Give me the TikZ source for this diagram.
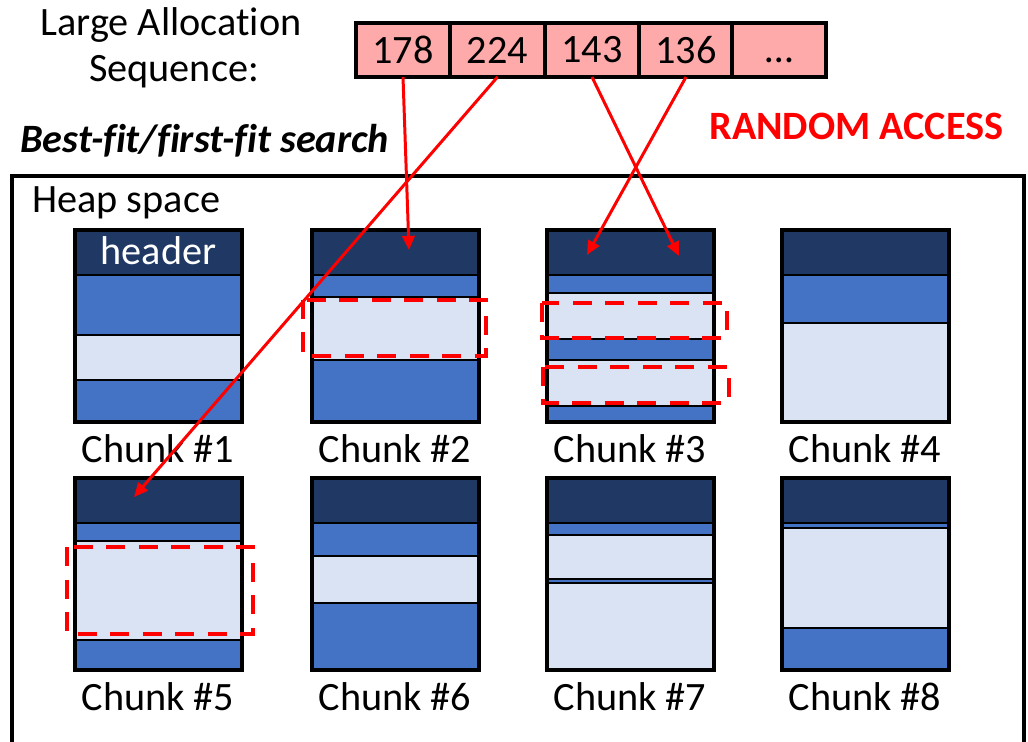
\documentclass[tikz,border=0pt]{standalone}
\usepackage{fontspec}
\setmainfont{Carlito}[Ligatures={NoCommon,NoContextual,NoRare}]
\usetikzlibrary{arrows.meta}

\definecolor{hdrblue}{HTML}{203864}
\definecolor{usedblue}{HTML}{4472C4}
\definecolor{freeblue}{HTML}{DAE3F3}
\definecolor{seqpink}{HTML}{FFAAAA}

\tikzset{
  hdr/.style={fill=hdrblue, draw=black, line width=1.6pt},
  used/.style={fill=usedblue, draw=black, line width=1.6pt},
  free/.style={fill=freeblue, draw=black, line width=1.6pt},
  chunkframe/.style={draw=black, line width=2.2pt},
  pick/.style={draw=red, line width=2.6pt, dash pattern=on 11pt off 7.5pt},
  seqbox/.style={draw=black, fill=seqpink, line width=2pt, minimum width=1.88cm,
    minimum height=1.08cm, inner sep=0pt, outer sep=0pt},
  hop/.style={red, line width=1.7pt, -{Triangle[length=8pt,width=7pt]}},
  txt/.style={inner sep=0pt}
}

\begin{document}
\begin{tikzpicture}[x=0.02cm, y=-0.02cm, font=\fontsize{22.9}{27}\selectfont]
    \useasboundingbox (0,0) rectangle (1028,742);
    \clip (0,0) rectangle (1028,742);

    % allocation requests
    \node[txt, anchor=base] (lbla) at (171,36) {Large Allocation};
    \node[txt, anchor=base] (lblb) at (174,82) {Sequence:};
    \node[seqbox] (s178) at (403,50) {178};
    \node[seqbox] (s224) at (497.5,50) {224};
    \node[seqbox] (s143) at (592,50) {143};
    \node[seqbox] (s136) at (686,50) {136};
    \node[seqbox] (sdots) at (779,50) {\vphantom{1}…};

    \node[txt, anchor=base west, font=\fontsize{22.9}{27}\selectfont\bfseries\itshape] (search) at (20,153) {Best-fit/first-fit search};
    \node[txt, anchor=base west, text=red, font=\fontsize{22.9}{27}\selectfont\bfseries] (random) at (709,140) {RANDOM ACCESS};

    % heap
    \draw[line width=2pt] (12,176) rectangle (1024,800);
    \node[txt, anchor=base west] (heap) at (32,213) {Heap space};

    % chunk bodies
    \foreach \n/\x/\y in {1/75/230, 2/312/230, 3/547/230, 4/782/230, 5/75/478, 6/312/478, 7/547/478, 8/782/478} {
      \draw[used] (\x,\y+45) rectangle (\x+167,\y+192);
    }

    % free holes
    \draw[free] (75,335) rectangle (242,380);
    \draw[free] (312,297) rectangle (479,360);
    \draw[free] (548,293) rectangle (715,339);
    \draw[free] (547,360) rectangle (714,406);
    \draw[free] (782,323) rectangle (949,422);
    \draw[free] (75,541) rectangle (242,640);
    \draw[free] (312,556) rectangle (479,603);
    \draw[free] (547,535) rectangle (714,579);
    \draw[free] (547,583) rectangle (714,669);
    \draw[free] (782,528) rectangle (949,628);

    % headers, outlines and names
    \foreach \n/\x/\y in {1/75/230, 2/312/230, 3/547/230, 4/782/230, 5/75/478, 6/312/478, 7/547/478, 8/782/478} {
      \draw[hdr] (\x,\y) rectangle (\x+167,\y+45);
      \draw[chunkframe] (\x,\y) rectangle (\x+167,\y+192);
      \node[txt, anchor=base] (name\n) at (\x+83,\y+233) {Chunk \#\n};
    }
    \node[txt, anchor=base, text=white] (hdrtxt) at (158.5,265) {header};

    % candidate holes
    \draw[pick] (303,300) rectangle (486,356);
    \draw[pick] (542,303) rectangle (727,338);
    \draw[pick] (543,367) rectangle (729,403);
    \draw[pick] (67,547) rectangle (253,634);

    % where each request lands
    \coordinate (t178) at (409,250);
    \coordinate (t224) at (134,497);
    \coordinate (t143) at (679,256);
    \coordinate (t136) at (587,255);
    \draw[hop] (s178.south) -- (t178);
    \draw[hop] (s224.south) -- (t224);
    \draw[hop] (s143.south) -- (t143);
    \draw[hop] (s136.south) -- (t136);
\end{tikzpicture}
\end{document}
